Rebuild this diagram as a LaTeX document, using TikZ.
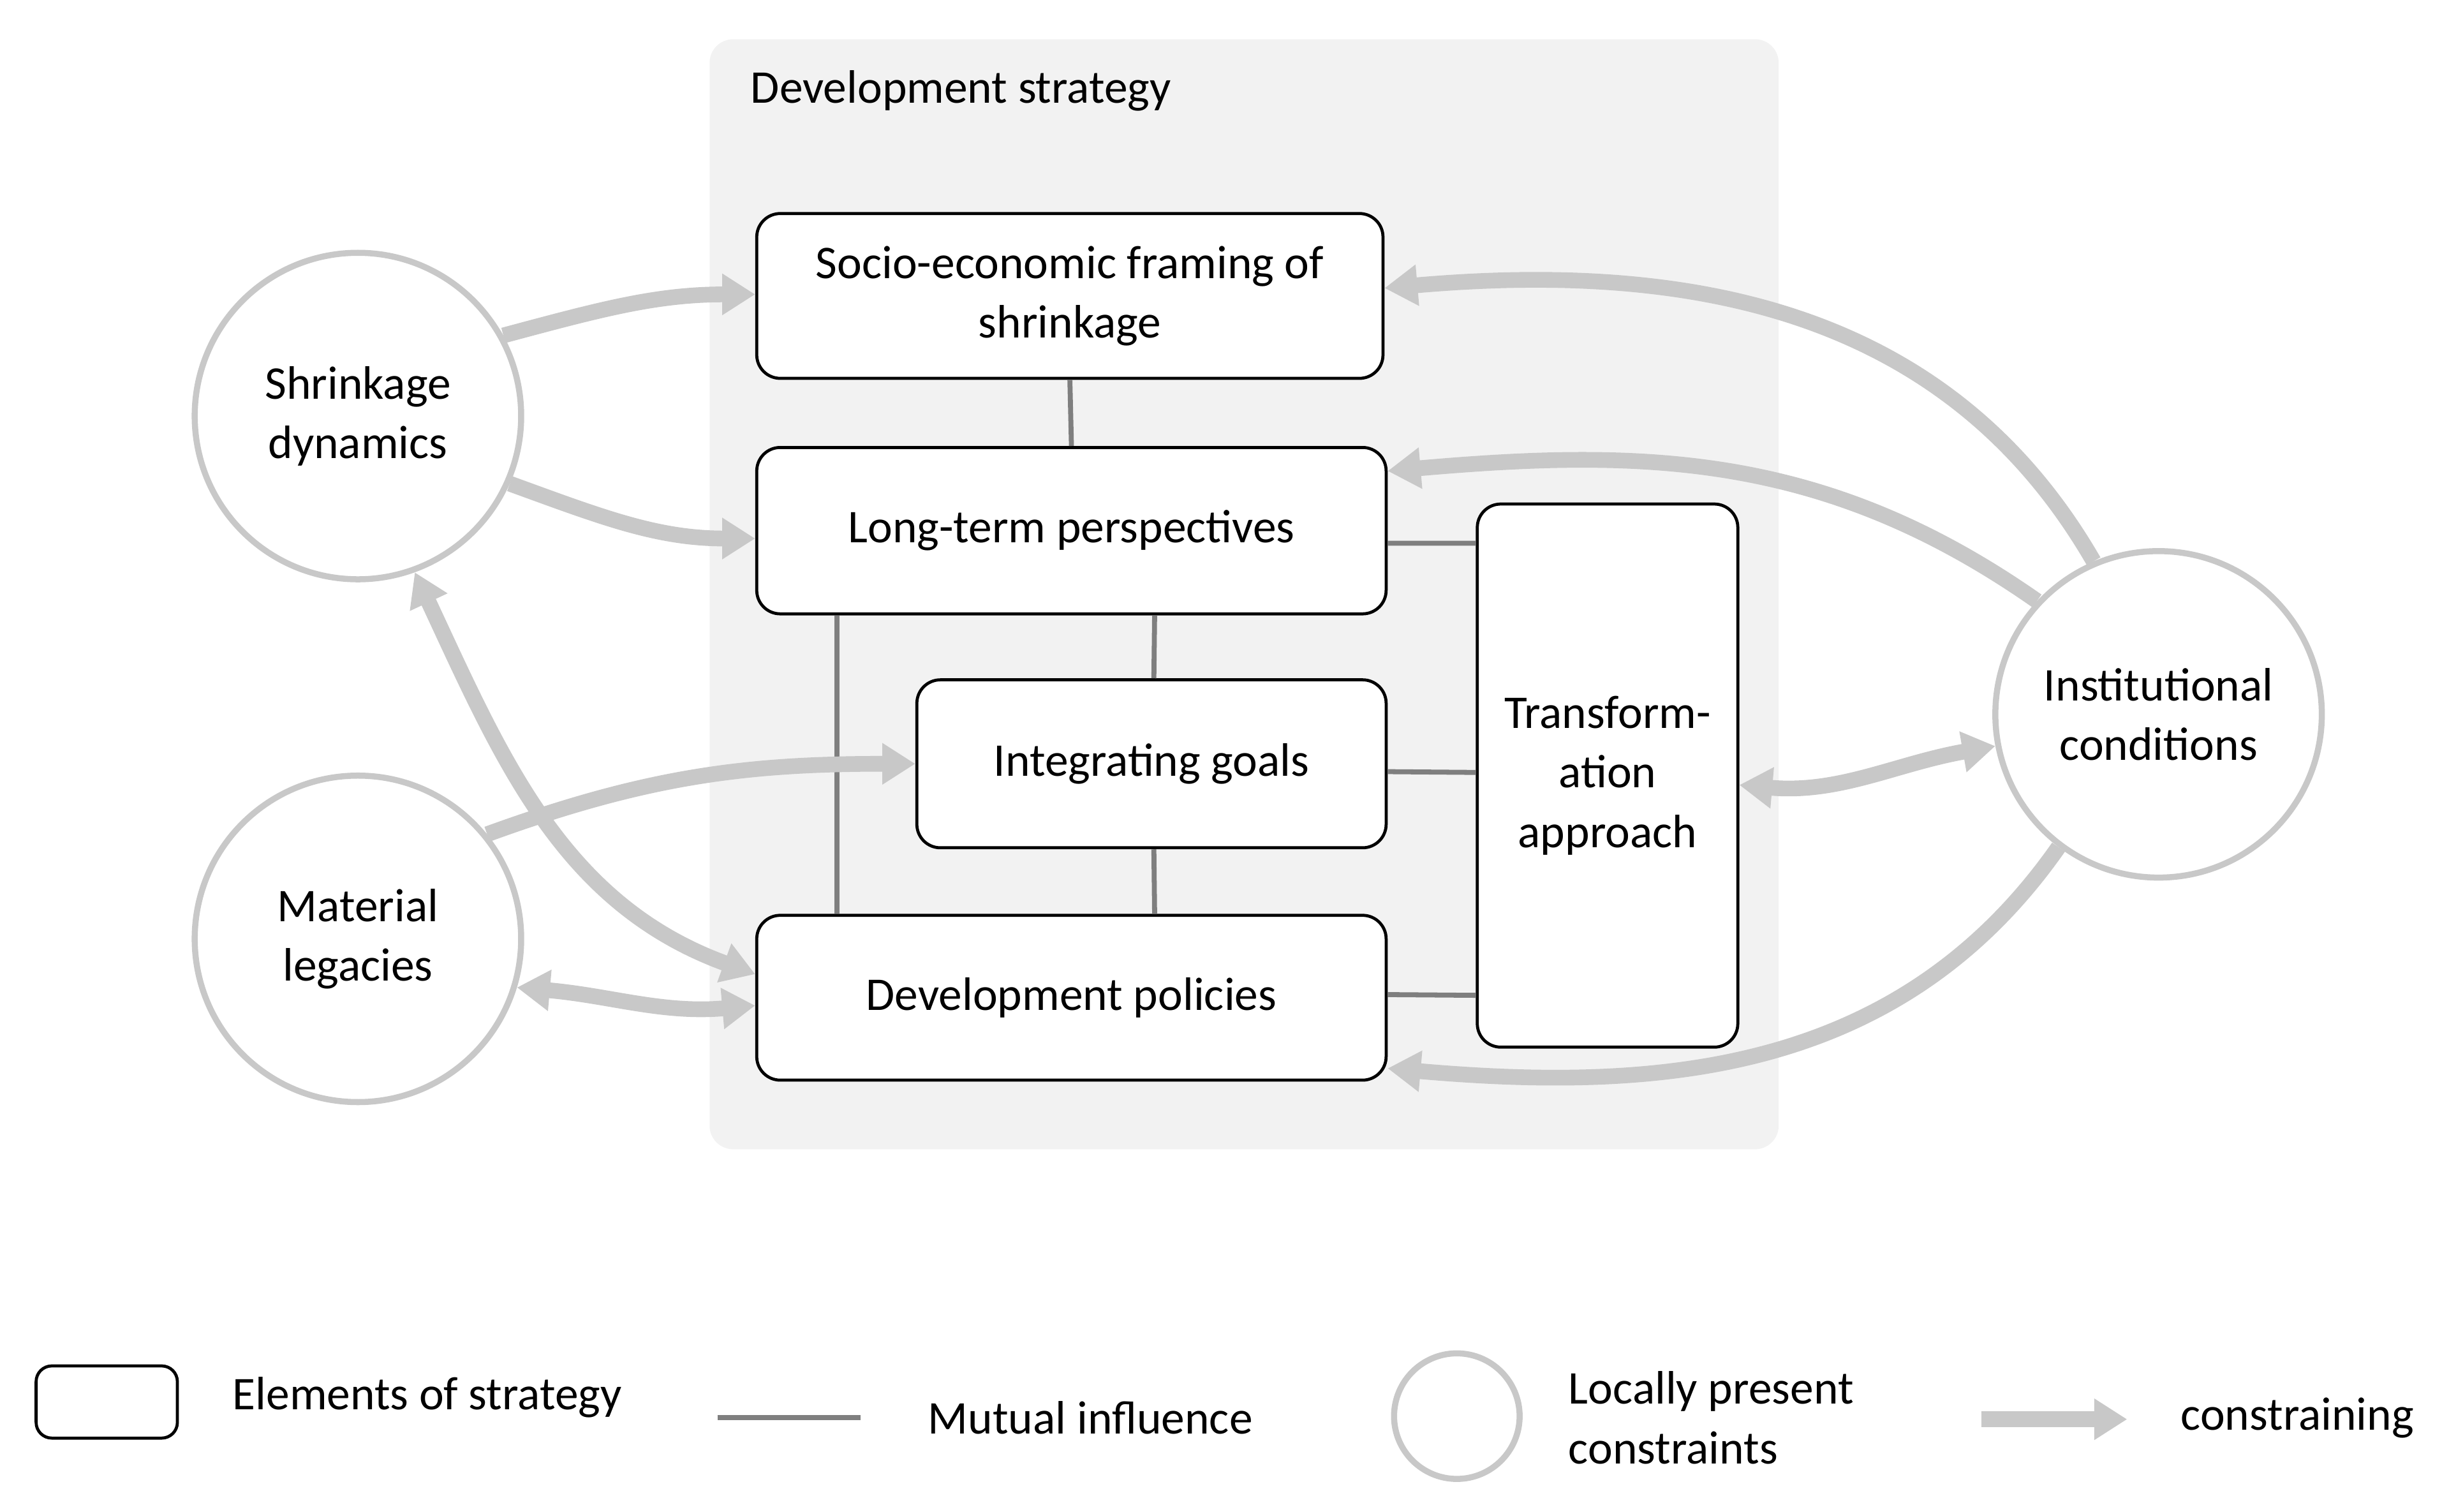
\documentclass[tikz,border=0pt]{standalone}
\usepackage{fontspec}
\setmainfont{Carlito}
\usetikzlibrary{arrows.meta,calc}
\definecolor{bgc}{HTML}{F2F2F2}
\definecolor{cons}{HTML}{C8C8C8}
\definecolor{mut}{HTML}{7F7F7F}
\begin{document}
\begin{tikzpicture}[x=0.02cm,y=-0.02cm,
  every node/.style={font=\fontsize{17}{21.6}\selectfont},
  box/.style={draw=black,line width=1.1pt,rounded corners=0.3cm,fill=white,align=center,inner sep=0},
  circ/.style={circle,draw=cons,line width=2.2pt,fill=white,minimum size=4.16cm,align=center,inner sep=0},
  mu/.style={draw=mut,line width=1.8pt},
  ar/.style={draw=cons,line width=0.2cm,-{Triangle[length=0.42cm,width=0.5cm]}},
  dar/.style={draw=cons,line width=0.2cm,{Triangle[length=0.42cm,width=0.5cm]}-{Triangle[length=0.42cm,width=0.5cm]}}]
\useasboundingbox (0,0) rectangle (1560,963);
\fill[bgc,rounded corners=0.3cm] (452,25) rectangle (1133,732);
\node[anchor=west] (title) at (472,58) {Development strategy};
% boxes
\node[box,minimum width=7.98cm,minimum height=2.1cm] (soc) at (681.5,188.5) {Socio-economic framing of\\shrinkage};
\node[box,minimum width=8.02cm,minimum height=2.12cm] (lt) at (682.5,338) {Long-term perspectives};
\node[box,minimum width=5.98cm,minimum height=2.14cm] (ig) at (733.5,486.5) {Integrating goals};
\node[box,minimum width=8.02cm,minimum height=2.1cm] (dp) at (682.5,635.5) {Development policies};
\node[box,minimum width=3.32cm,minimum height=6.92cm] (tr) at (1024,494) {Transform-\\ation\\approach};
% circles
\node[circ] (shr) at (228,265) {Shrinkage\\dynamics};
\node[circ] (mat) at (228,598) {Material\\legacies};
\node[circ] (ins) at (1375,455) {Institutional\\conditions};
% mutual influence lines
\draw[mu] (soc.south) -- (lt.north);
\draw[mu] ($(lt.south)+(1.06cm,0)$) -- ($(ig.north)+(0.03cm,0)$);
\draw[mu] ($(ig.south)+(0.03cm,0)$) -- ($(dp.north)+(1.06cm,0)$);
\draw[mu] ($(lt.south west)+(1.04cm,0)$) -- ($(dp.north west)+(1.04cm,0)$);
\draw[mu] ($(lt.east)+(0,-0.16cm)$) -- ($(tr.west)+(0,2.96cm)$);
\draw[mu] ($(ig.east)+(0,-0.1cm)$) -- ($(tr.west)+(0,0.04cm)$);
\draw[mu] ($(dp.east)+(0,0.04cm)$) -- ($(tr.west)+(0,-2.8cm)$);
% constraining arrows
\draw[ar] (shr.29) to[out=15,in=180] ($(soc.west)+(0,0.02cm)$);
\draw[ar] (shr.-24) to[out=-20,in=180] ($(lt.west)+(0,-0.1cm)$);
\draw[ar] (mat.39) to[out=20,in=180] (ig.west);
\draw[dar] (shr.-70) to[out=-65,in=160] ($(dp.west)+(0,0.3cm)$);
\draw[dar] (mat.-17) to[out=-5,in=185] ($(dp.west)+(0,-0.1cm)$);
\draw[ar] (ins.113) to[out=120,in=5] ($(soc.east)+(0,0.1cm)$);
\draw[ar] (ins.137) to[out=145,in=5] ($(lt.east)+(0,0.76cm)$);
\draw[ar] (ins.233) to[out=235,in=-5] ($(dp.east)+(0,-0.9cm)$);
\draw[dar] ($(tr.east)+(0,-0.12cm)$) to[out=-5,in=190] (ins.191);
% legend
\node[box,rounded corners=0.2cm,minimum width=1.8cm,minimum height=0.92cm] (lb) at (68,893) {};
\node[anchor=west] (lbt) at (142,890) {Elements of strategy};
\coordinate (la) at (457,903); \coordinate (lz) at (548,903);
\draw[mu] (la) -- (lz);
\node[anchor=west] (lmt) at (585,903) {Mutual influence};
\node[circle,draw=cons,line width=2.2pt,minimum size=1.6cm,inner sep=0] (lc) at (928,902) {};
\node[anchor=west,align=left] (lct) at (993,903) {Locally present\\constraints};
\coordinate (lar1) at (1262,904); \coordinate (lar2) at (1355,904);
\draw[ar] (lar1) -- (lar2);
\node[anchor=west] (lat) at (1383,903) {constraining};
\end{tikzpicture}
\end{document}
